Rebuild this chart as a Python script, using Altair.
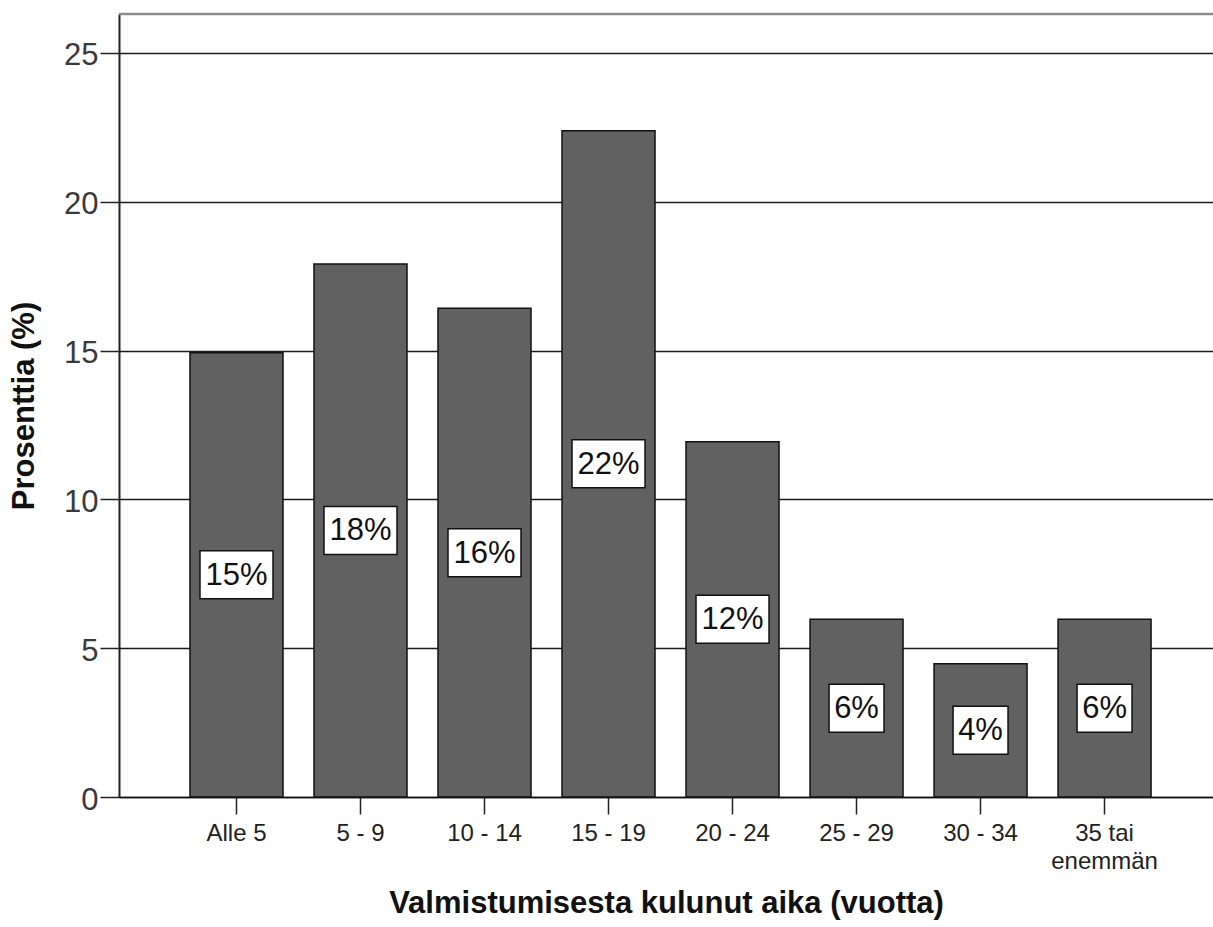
import altair as alt
import pandas as pd

# Time since graduation (years) and share of respondents (%)
categories = ["Alle 5", "5 - 9", "10 - 14", "15 - 19", "20 - 24", "25 - 29", "30 - 34", "35 tai\nenemmän"]
percentages = [14.93, 17.91, 16.42, 22.39, 11.94, 5.97, 4.48, 5.97]

df = pd.DataFrame({"aika": categories, "pct": percentages})

PLOT_W = 1094
PLOT_H = 783
FONT = "Liberation Sans"

# label boxes drawn as custom symbols: narrow for "6%", wide for "15%"
BOX_NARROW = "M-0.753,-0.6575H0.753V0.6575H-0.753Z"
BOX_WIDE = "M-1,-0.6575H1V0.6575H-1Z"

x_enc = alt.X(
    "aika:N",
    sort=categories,
    scale=alt.Scale(paddingInner=0.25, paddingOuter=0.536, align=0.534),
    axis=alt.Axis(
        title="Valmistumisesta kulunut aika (vuotta)",
        labelAngle=0,
        labelExpr="split(datum.label, '\\n')",
        labelFont=FONT,
        labelFontSize=24,
        labelColor="#222222",
        labelPadding=7,
        labelLineHeight=28,
        tickSize=17,
        tickColor="#222222",
        tickWidth=1.5,
        domainColor="#111111",
        domainWidth=1.5,
        titleFont=FONT,
        titleFontSize=31,
        titleFontWeight="bold",
        titleColor="#111111",
        titleBaseline="middle",
        titleY=106,
    ),
)

y_scale = alt.Scale(domain=[0, 26.31], nice=False, zero=True)

y_enc = alt.Y(
    "pct:Q",
    scale=y_scale,
    axis=alt.Axis(
        title="Prosenttia (%)",
        values=[0, 5, 10, 15, 20, 25],
        labelFont=FONT,
        labelFontSize=31,
        labelColor="#3a3a3a",
        labelPadding=2,
        labelOffset=3,
        tickSize=19,
        tickColor="#222222",
        tickWidth=1.5,
        domainColor="#222222",
        domainWidth=2,
        grid=True,
        gridColor="#1a1a1a",
        gridWidth=1.3,
        titleFont=FONT,
        titleFontSize=31,
        titleFontWeight="bold",
        titleColor="#111111",
        titleAngle=270,
        titleAlign="center",
        titleBaseline="middle",
        titleX=-95,
        titleY=PLOT_H / 2,
    ),
)

base = alt.Chart(df).transform_calculate(
    label="format(datum.pct, '.0f') + '%'",
    mid="datum.pct / 2",
    box="length(format(datum.pct, '.0f')) > 1 ? 'wide' : 'narrow'",
)

bars = base.mark_bar(color="#616161", stroke="#111111", strokeWidth=1.5).encode(
    x=x_enc, y=y_enc
)

boxes = base.mark_point(
    filled=True, fill="white", stroke="#111111", strokeWidth=1.5, opacity=1, size=5329
).encode(
    x=alt.X("aika:N", sort=categories),
    y=alt.Y("mid:Q", scale=y_scale),
    shape=alt.Shape(
        "box:N",
        scale=alt.Scale(domain=["narrow", "wide"], range=[BOX_NARROW, BOX_WIDE]),
        legend=None,
    ),
)

labels = base.mark_text(
    font=FONT, fontSize=31, color="#111111", baseline="middle", align="center", dy=1
).encode(
    x=alt.X("aika:N", sort=categories),
    y=alt.Y("mid:Q", scale=y_scale),
    text="label:N",
)

top_frame = alt.Chart(alt.Data(values=[{}])).mark_rule(
    color="#8c8c8c", strokeWidth=2.5
).encode(x=alt.value(0), x2=alt.value(PLOT_W), y=alt.value(0))

chart = (
    alt.layer(bars, boxes, labels, top_frame)
    .properties(
        width=PLOT_W,
        height=PLOT_H,
        autosize=alt.AutoSizeParams(type="none"),
        padding={"left": 119, "top": 14, "right": 0, "bottom": 130},
        background="white",
    )
    .configure_view(stroke=None)
)

chart.save("out.html", embed_options={"renderer": "svg", "actions": False})
